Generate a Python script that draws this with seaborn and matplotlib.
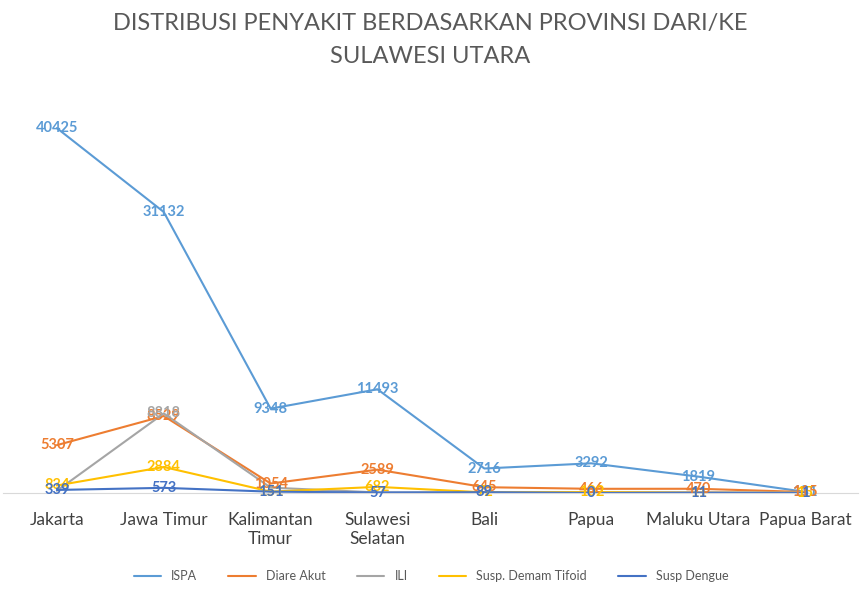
import matplotlib
matplotlib.use("Agg")
import matplotlib.pyplot as plt
import seaborn as sns
import pandas as pd

provinces = ["Jakarta", "Jawa Timur", "Kalimantan\nTimur", "Sulawesi\nSelatan",
             "Bali", "Papua", "Maluku Utara", "Papua Barat"]
series_names = ["ISPA", "Diare Akut", "ILI", "Susp. Demam Tifoid", "Susp Dengue"]
ispa = [40425, 31132, 9348, 11493, 2716, 3292, 1819, 131]
diare = [5307, 8529, 1054, 2589, 645, 466, 470, 115]
ili = [250, 8818, 600, 60, 50, 100, 100, 50]
tifoid = [834, 2884, 151, 682, 72, 102, 11, 15]
dengue = [339, 573, 151, 57, 89, 0, 11, 1]
colors = ["#5B9BD5", "#ED7D31", "#A5A5A5", "#FFC000", "#4472C4"]

values = [ispa, diare, ili, tifoid, dengue]
rows = []
for name, vals in zip(series_names, values):
    for prov, v in zip(provinces, vals):
        rows.append({"Provinsi": prov, "Jumlah": v, "Penyakit": name})
df = pd.DataFrame(rows)

sns.set_style("white")
plt.rcParams["font.family"] = ["Lato", "DejaVu Sans"]

fig = plt.figure(figsize=(8.61, 5.93), dpi=100)
ax = fig.add_axes([0.004, 0.1686, 0.993, 0.685])
sns.lineplot(data=df, x="Provinsi", y="Jumlah", hue="Penyakit", hue_order=series_names,
             palette=colors, sort=False, linewidth=1.5, ax=ax)

# data labels centred on the points, drawn series by series
show_ili = [False, True, False, False, False, False, False, False]
for name, vals, c in zip(series_names, values, colors):
    for j, v in enumerate(vals):
        if name == "ILI" and not show_ili[j]:
            continue
        ax.text(j, v, str(v), ha="center", va="center", color=c,
                fontsize=10.5, fontweight="bold")

ax.set_xlim(-0.5, 7.5)
ax.set_ylim(0, 45000)
ax.set_yticks([])
ax.set_xlabel("")
ax.set_ylabel("")
for s in ["top", "right", "left"]:
    ax.spines[s].set_visible(False)
ax.spines["bottom"].set_color("#D9D9D9")
ax.tick_params(axis="x", length=0, labelsize=12.5, labelcolor="#404040", pad=14)

fig.suptitle("DISTRIBUSI PENYAKIT BERDASARKAN PROVINSI DARI/KE\nSULAWESI UTARA",
             y=0.978, fontsize=17, color="#595959", linespacing=1.7)

ax.legend(loc="center", bbox_to_anchor=(0.5, -0.205), ncol=5, frameon=False,
          fontsize=9, labelcolor="#595959", handlelength=2.2, columnspacing=2.5)

fig.savefig("out.png", dpi=100)
